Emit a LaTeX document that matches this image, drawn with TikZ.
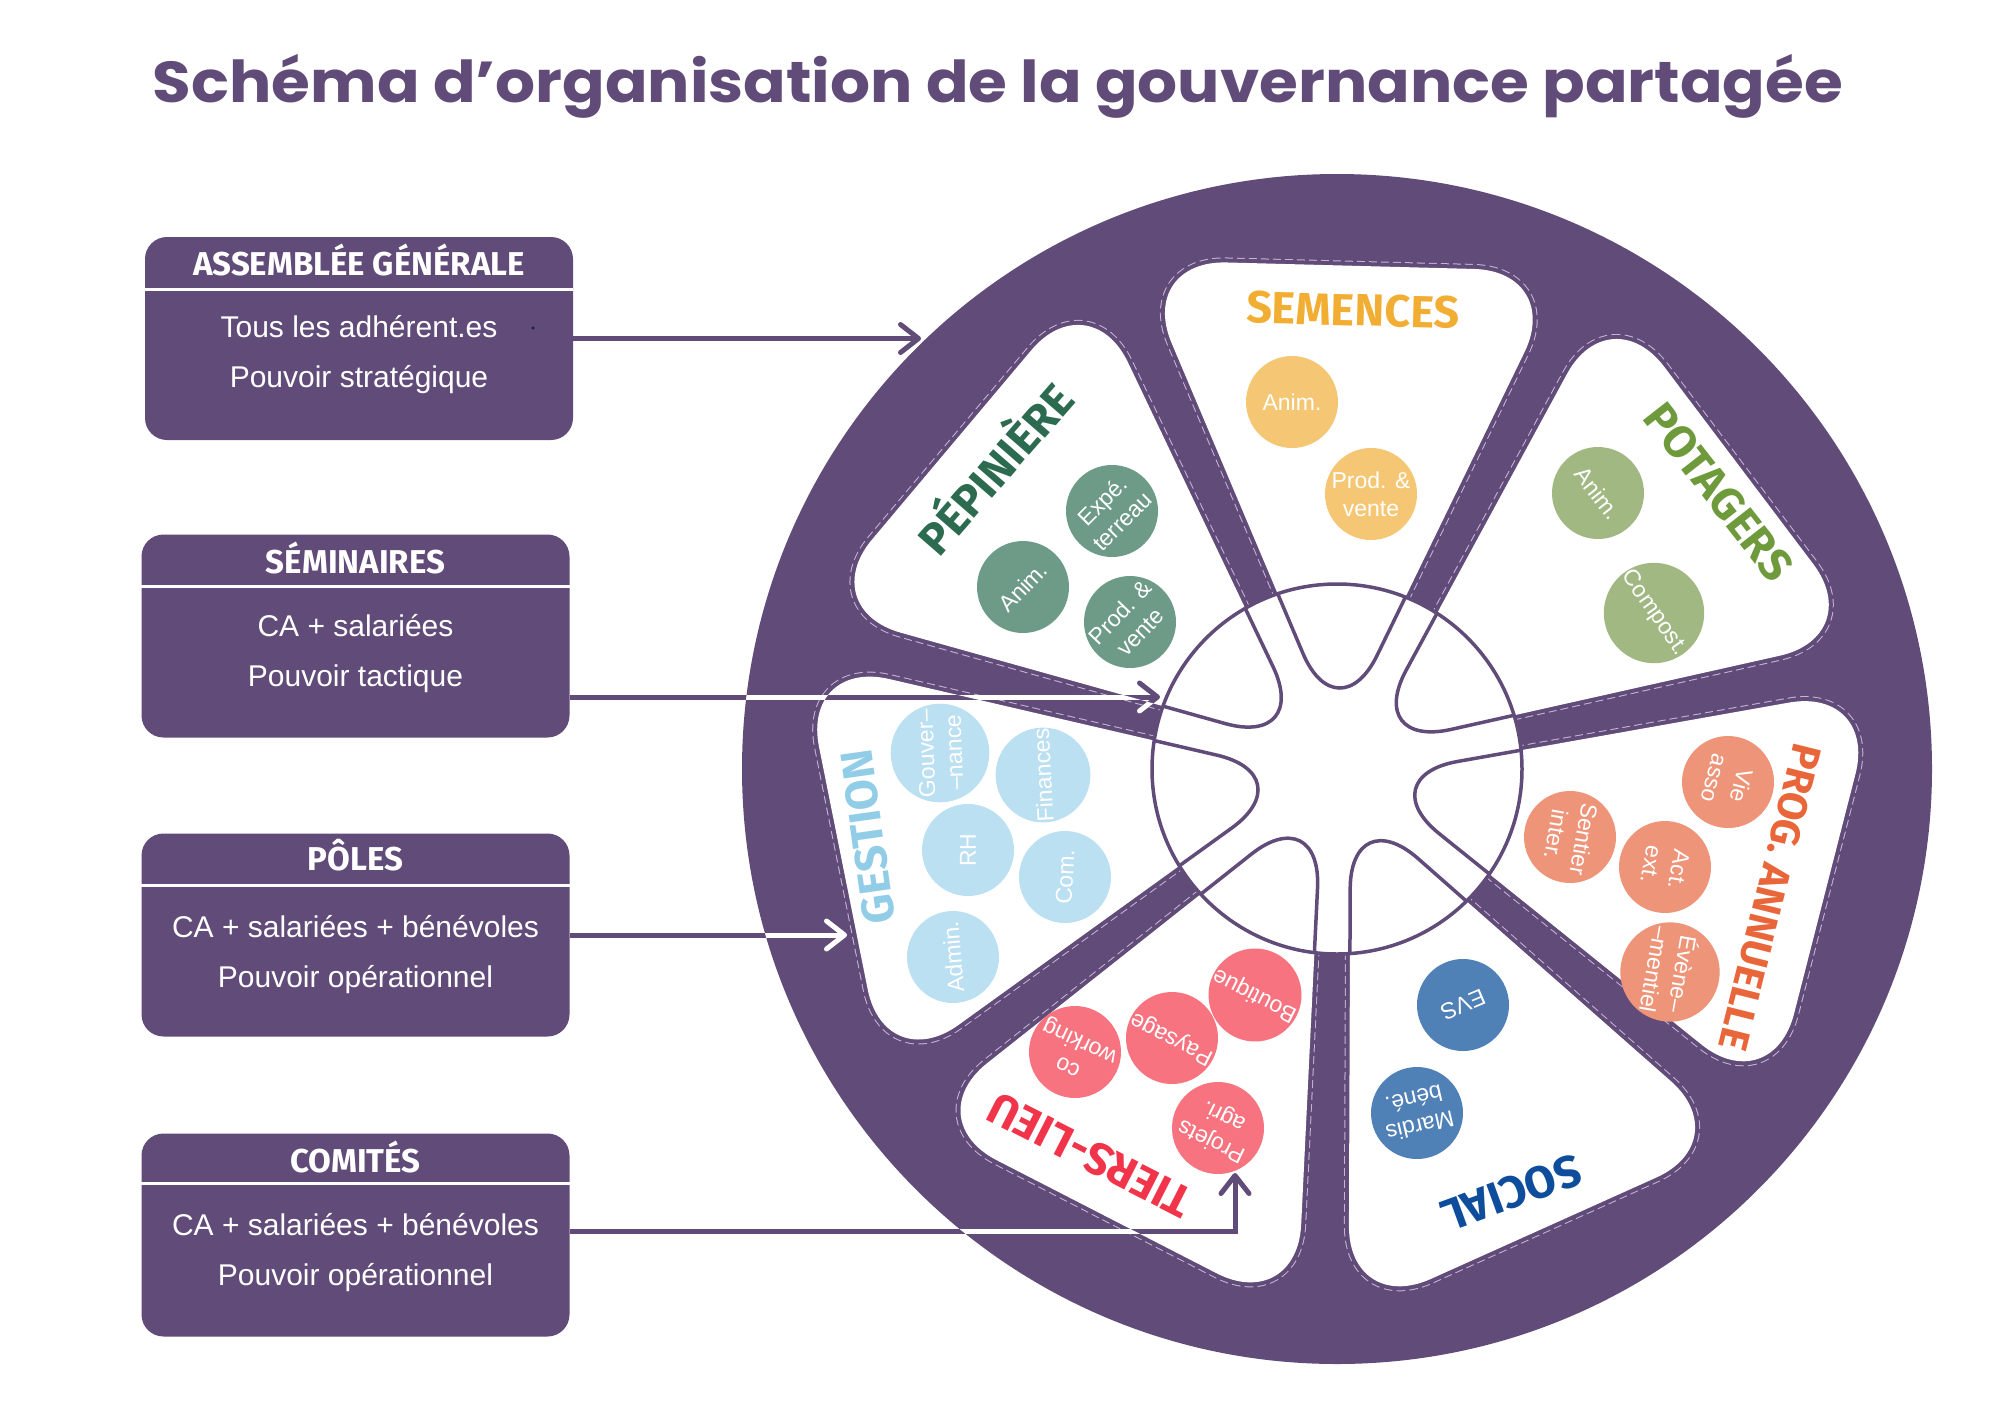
\documentclass[tikz,border=0pt]{standalone}
\usepackage{fontspec}
\usepackage{graphicx}
\usetikzlibrary{arrows.meta}
\setmainfont{Liberation Sans}
\newfontfamily\headfont{Fira Sans}
\newfontfamily\titlefont{Poppins}

\definecolor{wheel}{RGB}{97,75,121}
\definecolor{stitchcol}{RGB}{196,182,212}
\definecolor{semtxt}{RGB}{242,173,51}
\definecolor{semblob}{RGB}{245,198,115}
\definecolor{peptxt}{RGB}{44,107,80}
\definecolor{pepblob}{RGB}{109,155,136}
\definecolor{pottxt}{RGB}{110,154,60}
\definecolor{potblob}{RGB}{161,184,131}
\definecolor{progtxt}{RGB}{232,102,58}
\definecolor{progblob}{RGB}{238,148,121}
\definecolor{soctxt}{RGB}{13,77,156}
\definecolor{socblob}{RGB}{79,128,182}
\definecolor{tiertxt}{RGB}{242,52,74}
\definecolor{tierblob}{RGB}{247,115,127}
\definecolor{gestxt}{RGB}{146,205,232}
\definecolor{gesblob}{RGB}{187,224,241}
\definecolor{dotcol}{RGB}{40,40,70}

\tikzset{
  govbox/.style={fill=wheel, rounded corners=22pt, minimum width=428pt, minimum height=203pt, inner sep=0pt},
  boxhead/.style={text=white, font=\headfont\bfseries\fontsize{33}{36}\selectfont},
  boxbody/.style={text=white, align=center, font=\fontsize{30}{50}\selectfont},
  sep/.style={white, line width=3pt},
  sector/.style={fill=white, rounded corners=90pt,
    preaction={draw=stitchcol, line width=10pt, dash pattern=on 8pt off 4pt},
    preaction={draw=wheel, line width=8pt}},
  seclabel/.style={font=\headfont\bfseries\fontsize{45}{50}\selectfont},
  blob/.style={circle, minimum size=92pt, inner sep=0pt, text=white, align=center, font=\fontsize{23}{28}\selectfont},
  conn/.style={line width=5pt, -{Straight Barb[round, length=18pt, width=28pt]}},
  rim/.style={wheel, line width=3.5pt},
}

\begin{document}
\begin{tikzpicture}[x=1pt, y=-1pt]

\useasboundingbox (0,0) rectangle (2000,1414);
\fill[white] (0,0) rectangle (2000,1414);

% titre
\node[anchor=base, text=wheel, inner sep=0pt] (titre) at (998,102)
  {\resizebox*{1690pt}{64pt}{\titlefont\bfseries Schéma d’organisation de la gouvernance partagée}};

% roue
\coordinate (hub) at (1337,769);
\coordinate (sem-t) at (1337.9,736.0);  \coordinate (sem-a) at (1136.5,260.1);  \coordinate (sem-b) at (1563.8,271.3);
\coordinate (pot-t) at (1363.3,749.1);  \coordinate (pot-a) at (1609.9,294.9);  \coordinate (pot-b) at (1867.6,636.0);
\coordinate (prog-t) at (1369.0,777.2); \coordinate (prog-a) at (1877.8,686.8); \coordinate (prog-b) at (1771.7,1101.0);
\coordinate (soc-t) at (1350.5,799.1);  \coordinate (soc-a) at (1738.4,1140.6); \coordinate (soc-b) at (1348.6,1315.9);
\coordinate (tier-t) at (1321.9,798.3); \coordinate (tier-a) at (1296.8,1314.5); \coordinate (tier-b) at (916.6,1119.0);
\coordinate (ges-t) at (1304.6,775.5);  \coordinate (ges-a) at (885.4,1077.6);  \coordinate (ges-b) at (801.3,658.6);
\coordinate (pep-t) at (1311.7,747.8);  \coordinate (pep-a) at (814.1,608.4);   \coordinate (pep-b) at (1089.3,281.3);

\fill[wheel] (hub) circle (595);
\path[sector] (sem-t) -- (sem-a) -- (sem-b) -- cycle;
\path[sector] (pot-t) -- (pot-a) -- (pot-b) -- cycle;
\path[sector] (prog-t) -- (prog-a) -- (prog-b) -- cycle;
\path[sector] (soc-t) -- (soc-a) -- (soc-b) -- cycle;
\path[sector] (tier-t) -- (tier-a) -- (tier-b) -- cycle;
\path[sector] (ges-t) -- (ges-a) -- (ges-b) -- cycle;
\path[sector] (pep-t) -- (pep-a) -- (pep-b) -- cycle;
\fill[white] (hub) circle (185);
\begin{scope}
\clip (hub) circle (185);
\draw[rim, rounded corners=90pt] (sem-t) -- (sem-a) -- (sem-b) -- cycle;
\draw[rim, rounded corners=90pt] (pot-t) -- (pot-a) -- (pot-b) -- cycle;
\draw[rim, rounded corners=90pt] (prog-t) -- (prog-a) -- (prog-b) -- cycle;
\draw[rim, rounded corners=90pt] (soc-t) -- (soc-a) -- (soc-b) -- cycle;
\draw[rim, rounded corners=90pt] (tier-t) -- (tier-a) -- (tier-b) -- cycle;
\draw[rim, rounded corners=90pt] (ges-t) -- (ges-a) -- (ges-b) -- cycle;
\draw[rim, rounded corners=90pt] (pep-t) -- (pep-a) -- (pep-b) -- cycle;
\end{scope}
\draw[rim] (hub) circle (185);

% poles de la roue
\node[seclabel, text=semtxt, rotate=-1.5] (semences) at (1353,310) {SEMENCES};
\node[blob, fill=semblob] (sem-anim) at (1292,402) {Anim.};
\node[blob, fill=semblob] (sem-prod) at (1371,494) {Prod. \&\\vente};

\node[seclabel, text=pottxt, rotate=-52] (potagers) at (1719,492) {POTAGERS};
\node[blob, fill=potblob, rotate=-52] (pot-anim) at (1598,493) {Anim.};
\node[blob, fill=potblob, rotate=-55] (pot-compost) at (1654,613) {Compost.};

\node[seclabel, text=progtxt, rotate=-104, font=\headfont\bfseries\fontsize{41}{46}\selectfont] (prog) at (1770,897) {PROG. ANNUELLE};
\node[blob, fill=progblob, rotate=-105] (prog-vie) at (1728,782) {Vie\\asso};
\node[blob, fill=progblob, rotate=-100] (prog-sentier) at (1570,837) {Sentier\\inter.};
\node[blob, fill=progblob, rotate=-100] (prog-act) at (1665,867) {Act.\\ext.};
\node[blob, fill=progblob, rotate=-100] (prog-even) at (1670,972) {Évène–\\–mentiel};

\node[seclabel, text=soctxt, rotate=-160] (social) at (1511,1193) {SOCIAL};
\node[blob, fill=socblob, rotate=-157] (soc-evs) at (1463,1005) {EVS};
\node[blob, fill=socblob, rotate=-167] (soc-mardis) at (1417,1113) {Mardis\\béné.};

\node[seclabel, text=tiertxt, rotate=153] (tiers) at (1090,1155) {TIERS-LIEU};
\node[blob, fill=tierblob, rotate=153] (tier-boutique) at (1255,995) {Boutique};
\node[blob, fill=tierblob, rotate=153] (tier-paysage) at (1172,1038) {Paysage};
\node[blob, fill=tierblob, rotate=155] (tier-cowork) at (1075,1052) {co\\working};
\node[blob, fill=tierblob, rotate=154] (tier-projets) at (1218,1128) {Projets\\agri.};

\node[seclabel, text=gestxt, rotate=98] (gestion) at (868,837) {GESTION};
\node[blob, fill=gesblob, rotate=92] (ges-gouv) at (940,753) {Gouver–\\–nance};
\node[blob, fill=gesblob, rotate=93] (ges-fin) at (1043,775) {Finances};
\node[blob, fill=gesblob, rotate=90] (ges-rh) at (968,850) {RH};
\node[blob, fill=gesblob, rotate=87] (ges-com) at (1065,877) {Com.};
\node[blob, fill=gesblob, rotate=95] (ges-admin) at (953,957) {Admin.};

\node[seclabel, text=peptxt, rotate=49] (pepiniere) at (992,466) {PÉPINIÈRE};
\node[blob, fill=pepblob, rotate=46] (pep-anim) at (1023,587) {Anim.};
\node[blob, fill=pepblob, rotate=45] (pep-expe) at (1112,511) {Expé.\\terreau};
\node[blob, fill=pepblob, rotate=46] (pep-prod) at (1130,622) {Prod. \&\\vente};

% instances
\node[govbox] (ag) at (359,338.5) {};
\node[boxhead] (ag-head) at (359,260) {ASSEMBLÉE GÉNÉRALE};
\draw[sep] ([yshift=-53pt]ag.north west) -- ([yshift=-53pt]ag.north east);
\node[boxbody] (ag-body) at (359,355) {Tous les adhérent.es\\Pouvoir stratégique};
\fill[dotcol] (533,328) circle (1.8);

\node[govbox] (semi) at (355.5,636) {};
\node[boxhead] (semi-head) at (355.5,558) {SÉMINAIRES};
\draw[sep] ([yshift=-52pt]semi.north west) -- ([yshift=-52pt]semi.north east);
\node[boxbody] (semi-body) at (355.5,654) {CA + salariées\\Pouvoir tactique};

\node[govbox] (poles) at (355.5,935) {};
\node[boxhead] (poles-head) at (355.5,855) {PÔLES};
\draw[sep] ([yshift=-52pt]poles.north west) -- ([yshift=-52pt]poles.north east);
\node[boxbody] (poles-body) at (355.5,955) {CA + salariées + bénévoles\\Pouvoir opérationnel};

\node[govbox] (comites) at (355.5,1235) {};
\node[boxhead] (comites-head) at (355.5,1157) {COMITÉS};
\draw[sep] ([yshift=-50pt]comites.north west) -- ([yshift=-50pt]comites.north east);
\node[boxbody] (comites-body) at (355.5,1253) {CA + salariées + bénévoles\\Pouvoir opérationnel};

% fleches
\coordinate (ag-end) at (921,338.5);
\coordinate (semi-end) at (1160,697);
\coordinate (poles-end) at (847,935);
\coordinate (comites-bend) at (1235,1231);
\coordinate (comites-end) at (1235,1173);

\draw[conn, wheel] (ag.east) -- (ag-end);
\draw[conn, wheel] (semi.east |- semi-end) -- (semi-end);
\draw[conn, wheel] (poles.east) -- (poles-end);
\draw[conn, wheel] (comites.east |- comites-bend) -- (comites-bend) -- (comites-end);

\begin{scope}[even odd rule, rounded corners=90pt]
\clip (hub) circle (595) (hub) circle (185)
  (sem-t) -- (sem-a) -- (sem-b) -- cycle
  (pot-t) -- (pot-a) -- (pot-b) -- cycle
  (prog-t) -- (prog-a) -- (prog-b) -- cycle
  (soc-t) -- (soc-a) -- (soc-b) -- cycle
  (tier-t) -- (tier-a) -- (tier-b) -- cycle
  (ges-t) -- (ges-a) -- (ges-b) -- cycle
  (pep-t) -- (pep-a) -- (pep-b) -- cycle;
\draw[conn, white, sharp corners] (semi.east |- semi-end) -- (semi-end);
\draw[conn, white, sharp corners] (poles.east) -- (poles-end);
\draw[conn, white, sharp corners] (comites.east |- comites-bend) -- (comites-bend) -- (comites-end);
\end{scope}

\end{tikzpicture}
\end{document}
